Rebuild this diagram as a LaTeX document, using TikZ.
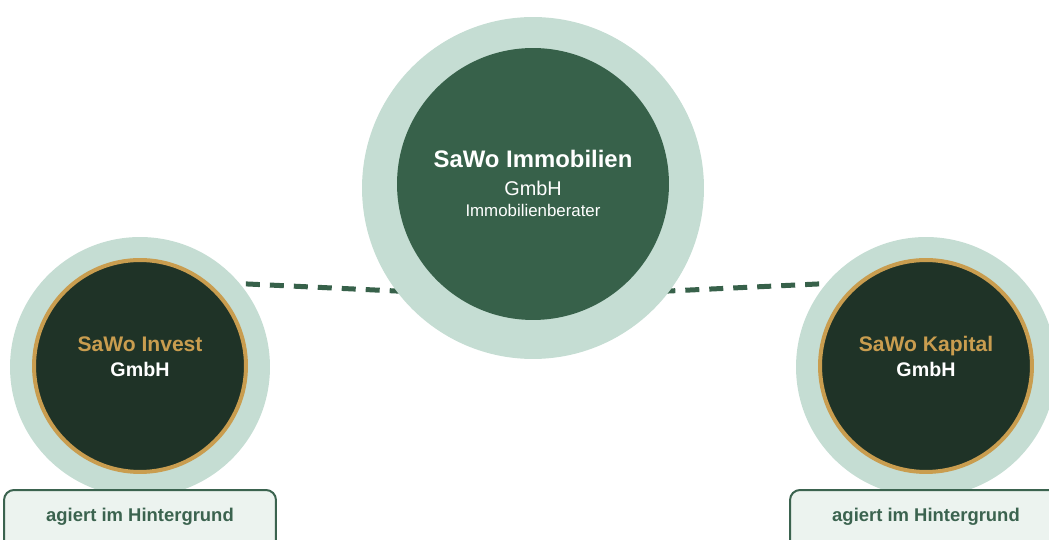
\documentclass[tikz,border=0pt]{standalone}
\usepackage{fontspec}
\setmainfont{Liberation Sans}
\usetikzlibrary{positioning}

\definecolor{sage}{HTML}{C5DDD3}
\definecolor{forest}{HTML}{37614A}
\definecolor{night}{HTML}{1F3327}
\definecolor{gold}{HTML}{C99D4F}
\definecolor{mint}{HTML}{ECF3EF}
\definecolor{boxline}{HTML}{3B634F}

\tikzset{
  halo/.style={circle,fill=sage,minimum size=#1,inner sep=0pt},
  core/.style={circle,fill=forest,minimum size=#1,inner sep=0pt},
  subcore/.style={circle,fill=night,draw=gold,line width=0.08cm,minimum size=4.24cm,inner sep=0pt},
  linkline/.style={forest,line width=0.1cm,dash pattern=on 0.28cm off 0.2cm},
  infobox/.style={draw=boxline,fill=mint,line width=0.04cm,rounded corners=0.2cm,
    minimum width=5.44cm,minimum height=1.2cm,inner sep=0pt},
  txt/.style={anchor=base,inner sep=0pt,font=#1}
}

\begin{document}
\begin{tikzpicture}[x=0.02cm,y=-0.02cm]
      \useasboundingbox (0,0) rectangle (1049,540);
      \clip (0,0) rectangle (1049,540);
      % dashed links behind the circles
      \coordinate (lnL) at (150,279.4);
      \coordinate (lnM1) at (500,295.9);
      \coordinate (lnM2) at (565,295.9);
      \coordinate (lnR) at (915,279.4);
      \draw[linkline] (lnL) -- (lnM1);
      \draw[linkline] (lnR) -- (lnM2);
      % main company
      \node[halo=6.84cm] (immohalo) at (533,188) {};
      \node[core=5.44cm] (immo) at (533,184) {};
      \node[txt={\fontsize{13.6}{16}\selectfont\bfseries},white] (immoname) at (533,168) {SaWo Immobilien};
      \node[txt={\fontsize{11.3}{13}\selectfont},white] (immogmbh) at (533,196) {GmbH};
      \node[txt={\fontsize{9.6}{11}\selectfont},white] (immorole) at (533,217) {Immobilienberater};
      % left company
      \node[halo=5.2cm] (investhalo) at (140,367) {};
      \node[subcore] (invest) at (140,366) {};
      \node[txt={\fontsize{12}{14}\selectfont\bfseries},gold] (investname) at (140,352) {SaWo Invest};
      \node[txt={\fontsize{11.2}{13}\selectfont\bfseries},white] (investgmbh) at (140,377) {GmbH};
      \node[infobox] (investbox) at (140,520) {};
      \node[txt={\fontsize{10.5}{12}\selectfont\bfseries},boxline] (investnote) at (140,522) {agiert im Hintergrund};
      % right company
      \node[halo=5.2cm] (kapitalhalo) at (926,367) {};
      \node[subcore] (kapital) at (926,366) {};
      \node[txt={\fontsize{12}{14}\selectfont\bfseries},gold] (kapitalname) at (926,352) {SaWo Kapital};
      \node[txt={\fontsize{11.2}{13}\selectfont\bfseries},white] (kapitalgmbh) at (926,377) {GmbH};
      \node[infobox] (kapitalbox) at (926,520) {};
      \node[txt={\fontsize{10.5}{12}\selectfont\bfseries},boxline] (kapitalnote) at (926,522) {agiert im Hintergrund};
    \end{tikzpicture}
\end{document}
